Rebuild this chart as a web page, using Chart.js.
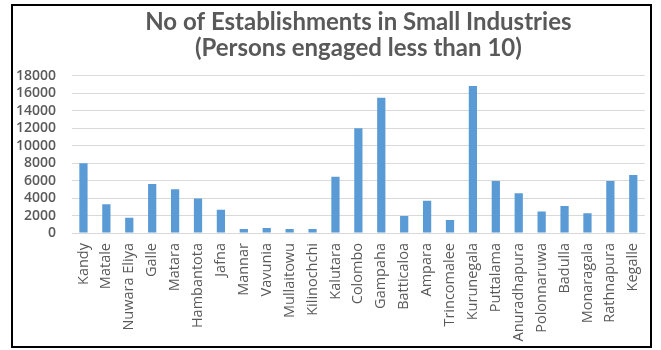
<!DOCTYPE html>
<html>
<head>
<meta charset="utf-8">
<script src="https://cdn.jsdelivr.net/npm/chart.js@4/dist/chart.umd.min.js"></script>
<style>
  html, body { margin: 0; padding: 0; background: #fff; }
  #wrap { position: relative; width: 661px; height: 350px; }
  #frame { position: absolute; left: 11px; top: 4px; width: 641px; height: 344px; border: 2px solid #000; box-sizing: border-box; pointer-events: none; }
</style>
</head>
<body>
<div id="wrap">
  <canvas id="c" width="661" height="350"></canvas>
  <div id="frame"></div>
</div>
<script>
const districts = ["Kandy","Matale","Nuwara Eliya","Galle","Matara","Hambantota","Jafna","Mannar","Vavunia","Mullaitowu","Kilinochchi","Kalutara","Colombo","Gampaha","Batticaloa","Ampara","Trincomalee","Kurunegala","Puttalama","Anuradhapura","Polonnaruwa","Badulla","Monaragala","Rathnapura","Kegalle"];
const establishments = [8000,3300,1750,5600,5000,3950,2650,450,580,450,450,6450,12000,15500,1950,3700,1500,16850,5950,4550,2450,3100,2250,5950,6650];
const titleLines = ["No of Establishments in Small Industries","(Persons engaged less than 10)"];
const yMin = 0, yMax = 18000, yStep = 2000;

new Chart(document.getElementById('c'), {
  type: 'bar',
  data: {
    labels: districts,
    datasets: [{
      data: establishments,
      backgroundColor: '#5b9bd5',
      borderWidth: 0,
      categoryPercentage: 1,
      barPercentage: 0.36
    }]
  },
  options: {
    responsive: false,
    animation: false,
    layout: { padding: { left: 12, right: 11, top: 5, bottom: 2 } },
    plugins: {
      legend: { display: false },
      tooltip: { enabled: false },
      title: {
        display: true,
        fullSize: false,
        text: titleLines,
        color: '#595959',
        font: { family: 'Lato', weight: 'bold', size: 24, lineHeight: 1.06 },
        padding: { top: 5, bottom: 15 }
      }
    },
    scales: {
      x: {
        grid: { display: false, drawTicks: false },
        border: { display: true, color: '#d9d9d9', width: 1 },
        ticks: {
          color: '#595959',
          font: { family: 'Open Sans', size: 14.5 },
          minRotation: 90, maxRotation: 90,
          autoSkip: false,
          padding: 10
        },
        afterFit: (s) => { s.height = 115; }
      },
      y: {
        min: yMin, max: yMax,
        grid: { color: '#d9d9d9', drawTicks: false },
        border: { display: false },
        ticks: {
          stepSize: yStep,
          autoSkip: false,
          color: '#595959',
          font: { family: 'Open Sans', size: 14, weight: '600' },
          padding: 16,
          callback: (v) => String(v)
        },
        afterFit: (s) => { s.width = 60; }
      }
    }
  }
});
</script>
</body>
</html>
